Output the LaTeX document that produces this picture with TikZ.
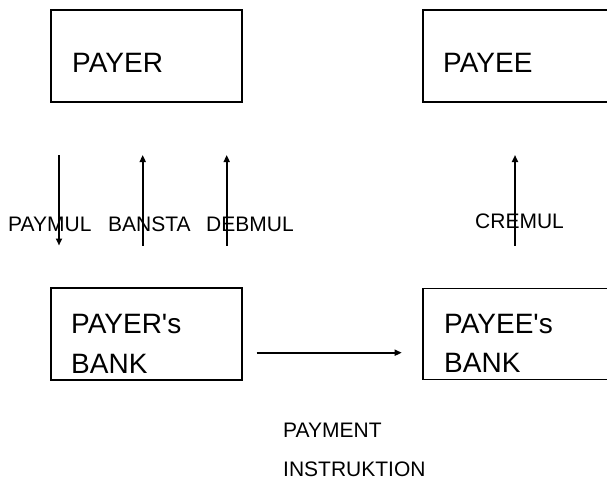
\documentclass[tikz,border=0pt]{standalone}
\usepackage{fontspec}
\setmainfont{Liberation Sans}
\usetikzlibrary{arrows.meta}
\begin{document}
\begin{tikzpicture}[x=1pt,y=-1pt,
  box/.style={draw,line width=1.7pt,inner sep=0pt},
  big/.style={font=\fontsize{28}{40}\selectfont,anchor=base west,inner sep=0pt},
  lab/.style={font=\fontsize{21}{25}\selectfont,anchor=base west,inner sep=0pt},
  msg/.style={line width=1.7pt,-{Triangle[length=7pt,width=6pt]}}]
\useasboundingbox (0,0) rectangle (607,479);
\clip (0,0) rectangle (607,479);
% boxes
\node[box,minimum width=191pt,minimum height=92pt] (payer) at (146.5,56) {};
\node[box,minimum width=192pt,minimum height=92pt] (payee) at (519,56) {};
\node[box,minimum width=191pt,minimum height=92pt] (payerbank) at (146.5,334) {};
\node[box,minimum width=192pt,minimum height=91pt] (payeebank) at (519,334) {};
% box texts
\node[big] (tpayer) at (72,72) {PAYER};
\node[big] (tpayee) at (443,72) {PAYEE};
\node[big] (tpb1) at (71,333) {PAYER\textquotesingle s};
\node[big] (tpb2) at (71,373) {BANK};
\node[big] (teb1) at (444,333) {PAYEE\textquotesingle s};
\node[big] (teb2) at (444,372) {BANK};
% arrow end points
\coordinate (paymulA) at (59,155);
\coordinate (paymulB) at (59,245.5);
\coordinate (banstaA) at (142.7,245.5);
\coordinate (banstaB) at (142.7,155);
\coordinate (debmulA) at (226.7,245.5);
\coordinate (debmulB) at (226.7,155);
\coordinate (cremulA) at (515,245.5);
\coordinate (cremulB) at (515,155);
\coordinate (payA) at (256.7,352.7);
\coordinate (payB) at (401.7,352.7);
% arrows
\draw[msg] (paymulA) -- (paymulB);
\draw[msg] (banstaA) -- (banstaB);
\draw[msg] (debmulA) -- (debmulB);
\draw[msg] (cremulA) -- (cremulB);
\draw[msg] (payA) -- (payB);
% labels
\node[lab] (lpaymul) at (8,231) {PAYMUL};
\node[lab] (lbansta) at (108,231) {BANSTA};
\node[lab] (ldebmul) at (206,231) {DEBMUL};
\node[lab] (lcremul) at (475,228) {CREMUL};
\node[lab] (lpay1) at (283,437) {PAYMENT};
\node[lab] (lpay2) at (283,476) {INSTRUKTION};
\end{tikzpicture}
\end{document}
